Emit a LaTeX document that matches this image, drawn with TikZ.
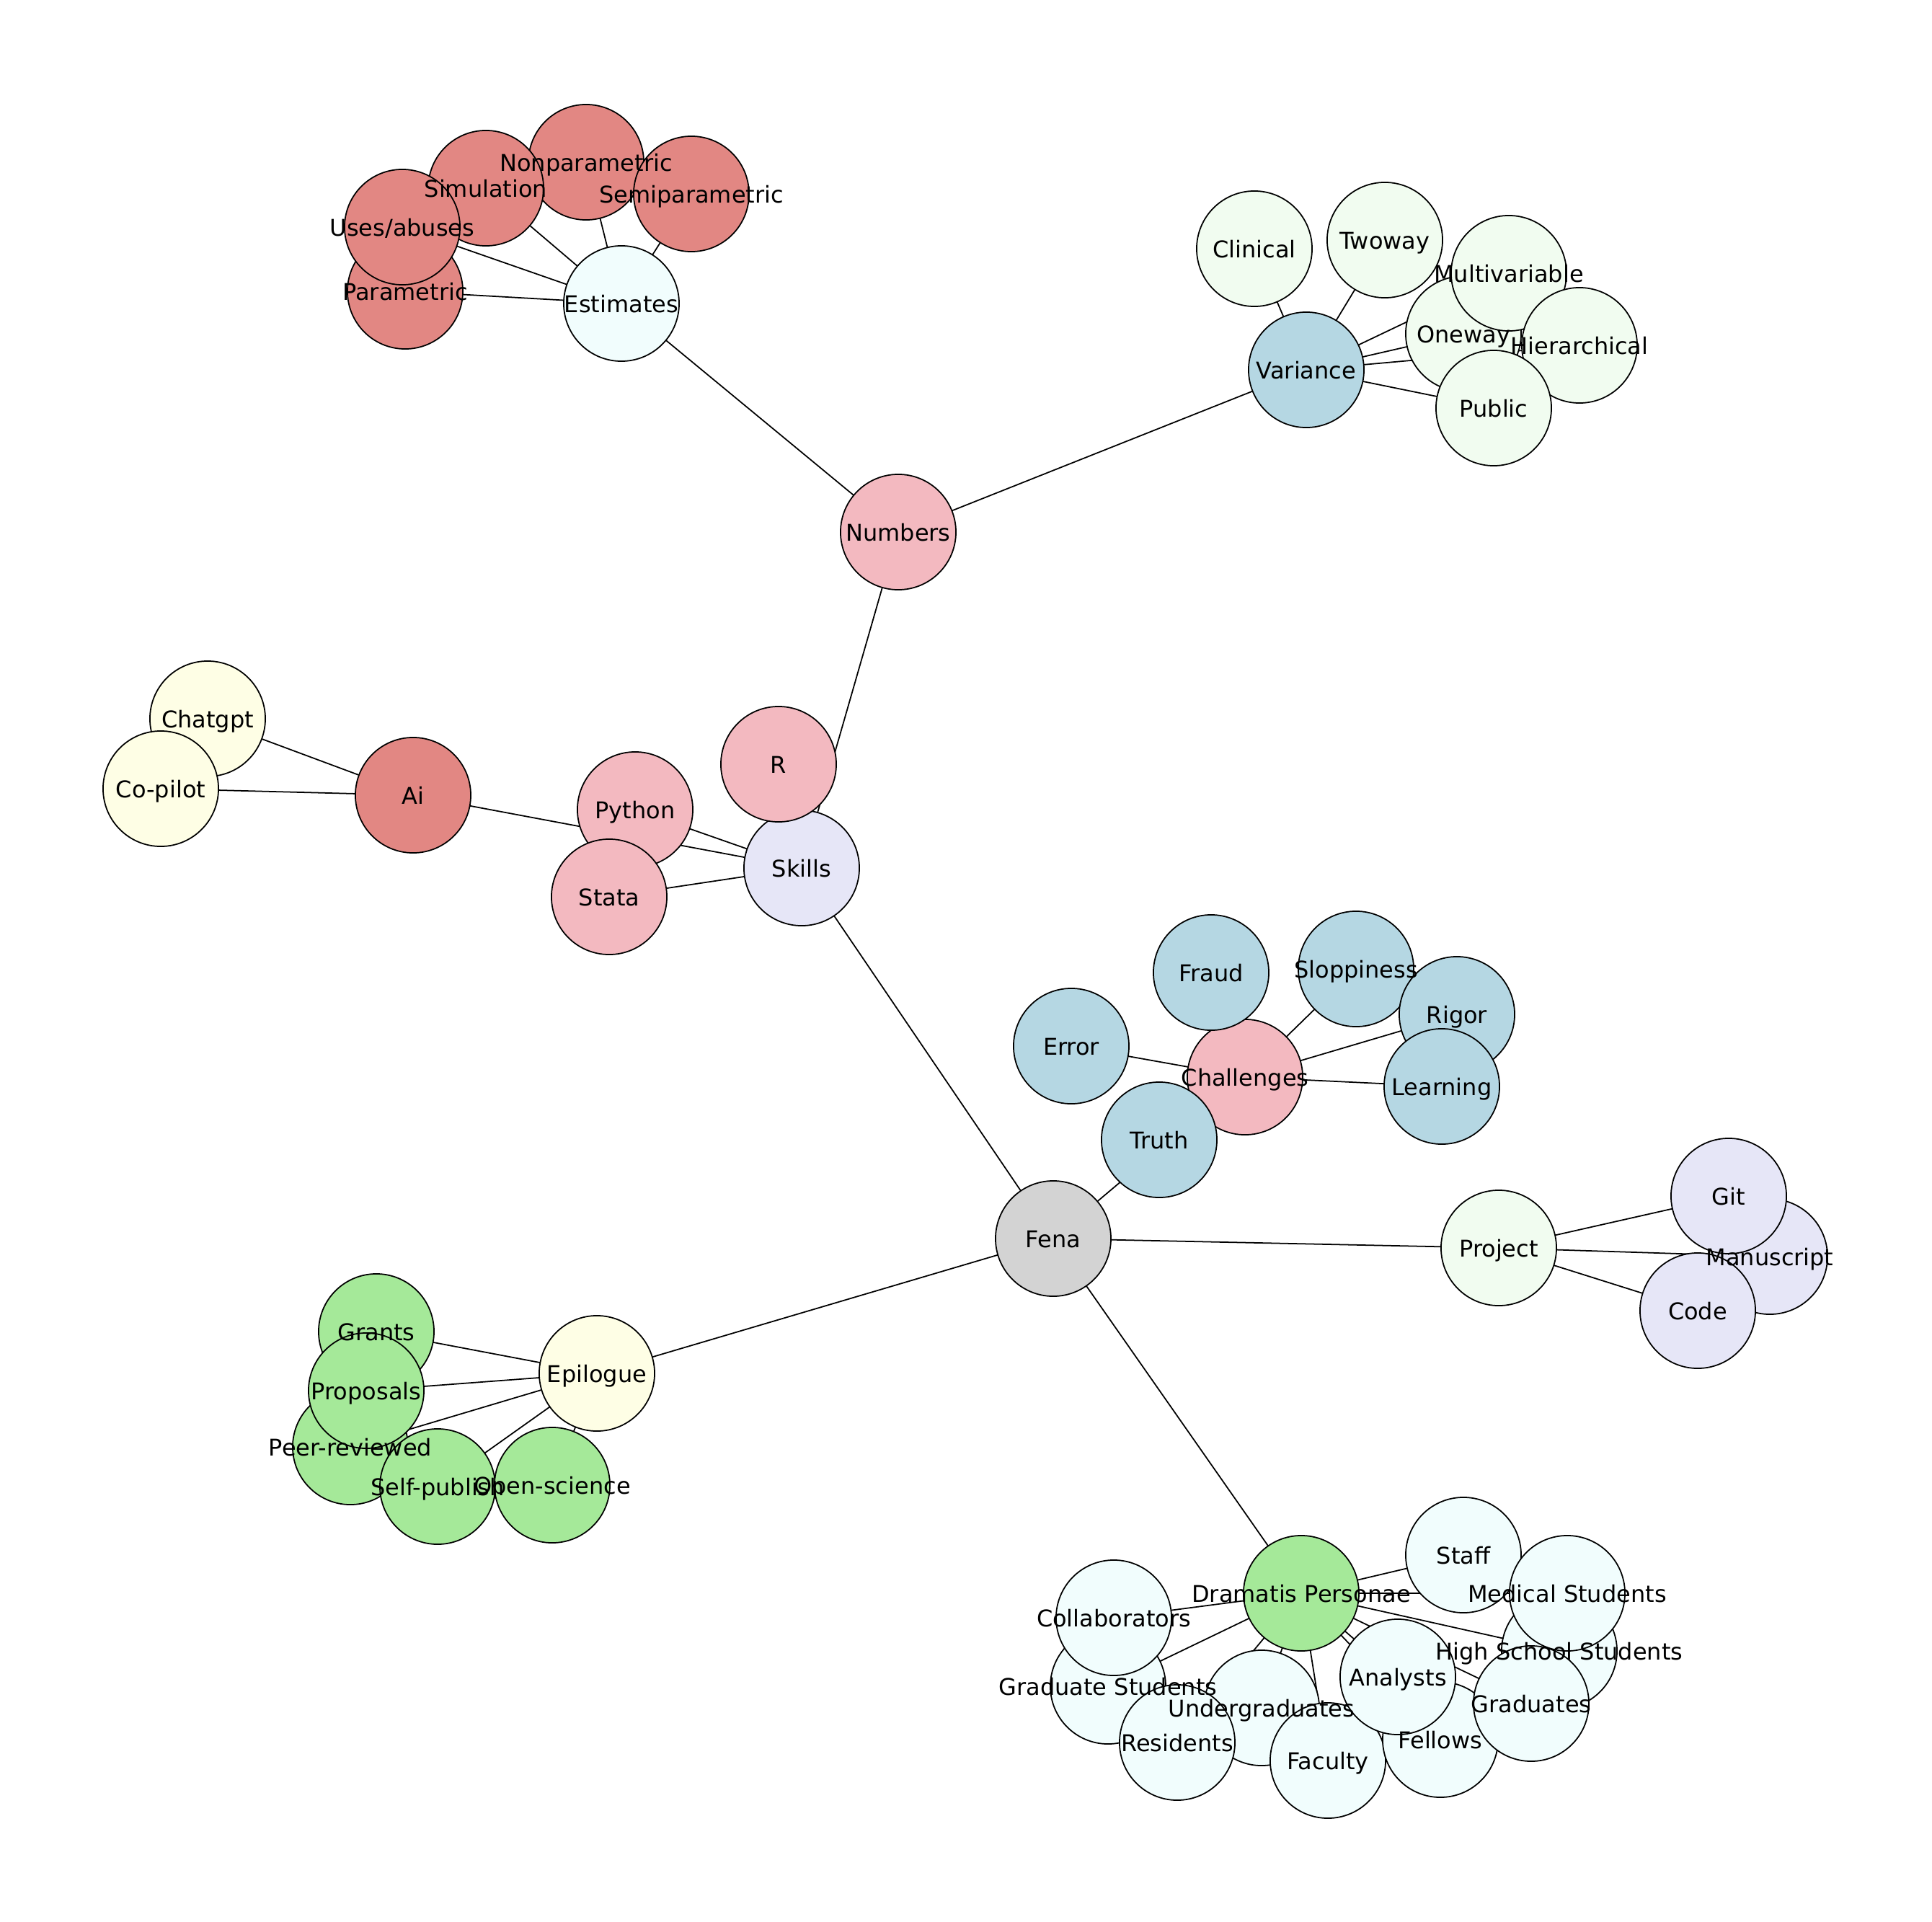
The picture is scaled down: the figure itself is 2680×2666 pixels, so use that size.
\documentclass[tikz,border=0pt]{standalone}
\usepackage{fontspec}
\setmainfont{DejaVu Sans}
\pgfdeclarelayer{bg}
\pgfdeclarelayer{fg}
\pgfsetlayers{bg,main,fg}
\definecolor{cgray}{RGB}{211,211,211}
\definecolor{cpink}{RGB}{243,185,192}
\definecolor{cred}{RGB}{226,135,131}
\definecolor{cblue}{RGB}{181,215,227}
\definecolor{cgreen}{RGB}{165,233,153}
\definecolor{choney}{RGB}{241,252,240}
\definecolor{cazure}{RGB}{241,253,253}
\definecolor{clav}{RGB}{230,230,247}
\definecolor{cyel}{RGB}{254,254,229}
\tikzset{
  vtx/.style={circle,draw=black,line width=0.5pt,minimum size=1.6cm,inner sep=0pt},
  lbl/.style={font=\fontsize{9.1}{10}\selectfont,inner sep=0pt,text height=0.73em,text depth=0.24em,yshift=-0.035cm},
  link/.style={draw=black,line width=0.5pt}
}
\newcommand\vx[5]{%
  \node[vtx,fill=#5] (#1) at (#2,#3) {};
  \begin{pgfonlayer}{fg}\node[lbl] (#1t) at (#1.center) {#4};\end{pgfonlayer}}
\begin{document}
\begin{tikzpicture}[x=0.01cm,y=-0.01cm]
\useasboundingbox (0,0) rectangle (2680,2666);
\vx{fena}{1461}{1718}{Fena}{cgray}
\vx{skills}{1112}{1204}{Skills}{clav}
\vx{numbers}{1246}{738}{Numbers}{cpink}
\vx{estimates}{862}{421}{Estimates}{cazure}
\vx{variance}{1812}{513}{Variance}{cblue}
\vx{challenges}{1727}{1494}{Challenges}{cpink}
\vx{project}{2079}{1731}{Project}{choney}
\vx{epilogue}{828}{1905}{Epilogue}{cyel}
\vx{dramatis}{1805}{2210}{Dramatis Personae}{cgreen}
\vx{r}{1080}{1060}{R}{cpink}
\vx{python}{881}{1123}{Python}{cpink}
\vx{stata}{845}{1244}{Stata}{cpink}
\vx{ai}{573}{1103}{Ai}{cred}
\vx{chatgpt}{288}{997}{Chatgpt}{cyel}
\vx{copilot}{223}{1094}{Co-pilot}{cyel}
\vx{parametric}{562}{404}{Parametric}{cred}
\vx{nonparam}{813}{225}{Nonparametric}{cred}
\vx{simulation}{674}{261}{Simulation}{cred}
\vx{semiparam}{959}{269}{Semiparametric}{cred}
\vx{uses}{558}{315}{Uses/abuses}{cred}
\vx{clinical}{1740}{345}{Clinical}{choney}
\vx{twoway}{1921}{333}{Twoway}{choney}
\vx{oneway}{2030}{463}{Oneway}{choney}
\vx{multivar}{2093}{379}{Multivariable}{choney}
\vx{hier}{2191}{479}{Hierarchical}{choney}
\vx{public}{2072}{566}{Public}{choney}
\vx{error}{1486}{1451}{Error}{cblue}
\vx{fraud}{1680}{1349}{Fraud}{cblue}
\vx{slop}{1881}{1344}{Sloppiness}{cblue}
\vx{rigor}{2021}{1407}{Rigor}{cblue}
\vx{learning}{2000}{1507}{Learning}{cblue}
\vx{truth}{1608}{1581}{Truth}{cblue}
\vx{manuscript}{2455}{1743}{Manuscript}{clav}
\vx{git}{2398}{1659}{Git}{clav}
\vx{code}{2355}{1818}{Code}{clav}
\vx{grants}{522}{1847}{Grants}{cgreen}
\vx{peer}{486}{2007}{Peer-reviewed}{cgreen}
\vx{proposals}{508}{1929}{Proposals}{cgreen}
\vx{selfpub}{607}{2062}{Self-publish}{cgreen}
\vx{opensci}{766}{2060}{Open-science}{cgreen}
\vx{staff}{2030}{2157}{Staff}{cazure}
\vx{hs}{2163}{2290}{High School Students}{cazure}
\vx{medical}{2174}{2210}{Medical Students}{cazure}
\vx{gradstud}{1537}{2339}{Graduate Students}{cazure}
\vx{collab}{1545}{2244}{Collaborators}{cazure}
\vx{undergrad}{1750}{2369}{Undergraduates}{cazure}
\vx{residents}{1633}{2417}{Residents}{cazure}
\vx{faculty}{1842}{2442}{Faculty}{cazure}
\vx{fellows}{1998}{2413}{Fellows}{cazure}
\vx{analysts}{1939}{2326}{Analysts}{cazure}
\vx{graduates}{2124}{2363}{Graduates}{cazure}
\begin{pgfonlayer}{bg}
\foreach \a/\b in {fena/skills,fena/challenges,fena/project,fena/epilogue,fena/dramatis,
  skills/numbers,skills/r,skills/python,skills/stata,skills/ai,
  numbers/estimates,numbers/variance,
  estimates/parametric,estimates/uses,estimates/simulation,estimates/nonparam,estimates/semiparam,
  variance/clinical,variance/twoway,variance/oneway,variance/multivar,variance/hier,variance/public,
  ai/chatgpt,ai/copilot,
  challenges/error,challenges/fraud,challenges/slop,challenges/rigor,challenges/learning,challenges/truth,
  project/git,project/manuscript,project/code,
  epilogue/grants,epilogue/proposals,epilogue/peer,epilogue/selfpub,epilogue/opensci,
  dramatis/staff,dramatis/medical,dramatis/hs,dramatis/collab,dramatis/gradstud,dramatis/undergrad,
  dramatis/residents,dramatis/analysts,dramatis/faculty,dramatis/fellows,dramatis/graduates}
  \draw[link] (\a.center) -- (\b.center);
\end{pgfonlayer}
\end{tikzpicture}
\end{document}
